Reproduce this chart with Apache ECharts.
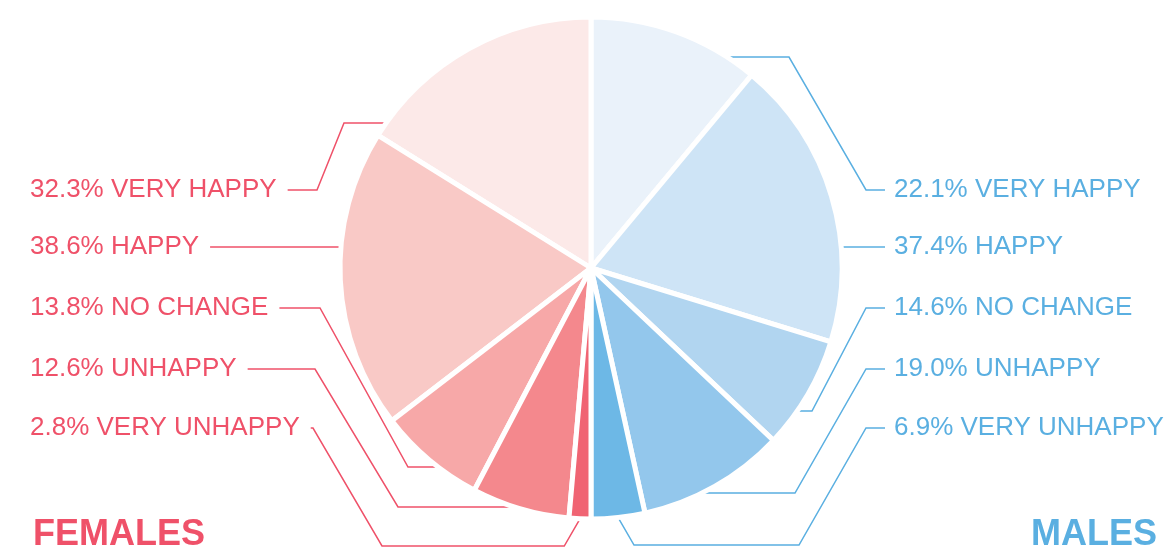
<!DOCTYPE html>
<html lang="en">
<head>
<meta charset="utf-8">
<style>
  html, body { margin: 0; height: 100%; background: #fff; }
  #chart { width: 1165px; height: 547px; }
</style>
</head>
<body>
<div id="chart"></div>
<script src="https://cdn.jsdelivr.net/npm/echarts@6/dist/echarts.min.js"></script>
<script>
// answers, listed from the top of each half downwards
const categories = ['VERY HAPPY', 'HAPPY', 'NO CHANGE', 'UNHAPPY', 'VERY UNHAPPY'];
const malesPct = [22.1, 37.4, 14.6, 19.0, 6.9];
const femalesPct = [32.3, 38.6, 13.8, 12.6, 2.8];

const maleColors = ['#eaf2fa', '#cee4f6', '#b1d5f0', '#93c7ec', '#6db8e6'];
const femaleColors = ['#fce9e8', '#f9c9c6', '#f7a8a8', '#f4888d', '#f06473'];
const maleInk = '#5aafe1';
const femaleInk = '#ef5169';

const CX = 591, CY = 268, R = 251;
const rowY = [190, 247, 308, 369, 428];
// leader routes: [knee x, x where the slant meets the run, run y]; null = straight line
const femaleRoute = [[317, 344, 123], null, [320, 408, 467], [315, 398, 507], [313, 382, 546]];
const maleRoute = [[866, 789, 57], null, [866, 812, 411], [866, 795, 493], [866, 799, 545]];

function makeLayout(side, route) {
  // side -1: labels on the left, 1: on the right
  return function (params) {
    var i = params.dataIndex;
    var y = rowY[i];
    var x = side < 0 ? 30 : 894;
    var start = side < 0 ? [x + params.labelRect.width + 11, y] : [x - 9, y];
    var arcX = function (yy) {
      return CX + side * Math.sqrt(R * R - (yy - CY) * (yy - CY));
    };
    var pts;
    var rt = route[i];
    if (!rt) {
      pts = [start, [arcX(y), y]];
    } else {
      pts = [start, [rt[0], y], [rt[1], rt[2]]];
      if (Math.abs(rt[2] - CY) < R) {
        pts.push([arcX(rt[2]), rt[2]]);
      } else {
        // run passes under the pie, then climbs to the slice middle
        var p0 = params.labelLinePoints[0];
        pts.push([p0[0] + side * (rt[2] - p0[1]) / Math.sqrt(3), rt[2]]);
        pts.push(p0);
      }
    }
    return { x: x, y: y, align: 'left', verticalAlign: 'middle', labelLinePoints: pts };
  };
}

function halfPie(name, values, colors, ink, side, route, startAngle, endAngle, clockwise) {
  return {
    name: name,
    type: 'pie',
    center: [CX, CY],
    radius: R,
    startAngle: startAngle,
    endAngle: endAngle,
    clockwise: clockwise,
    avoidLabelOverlap: false,
    emphasis: { disabled: true },
    itemStyle: { borderColor: '#fff', borderWidth: 5 },
    label: {
      show: true,
      position: 'outer',
      color: ink,
      fontSize: 26,
      fontFamily: 'Liberation Sans',
      formatter: function (p) {
        return p.value.toFixed(1) + '% ' + p.name;
      }
    },
    labelLine: { show: true, smooth: false, lineStyle: { color: ink, width: 1.5 } },
    labelLayout: makeLayout(side, route),
    data: categories.map(function (c, i) {
      return { name: c, value: values[i], itemStyle: { color: colors[i] } };
    })
  };
}

var chart = echarts.init(document.getElementById('chart'), null, { renderer: 'canvas' });
chart.setOption({
  animation: false,
  title: [
    {
      text: 'FEMALES', left: 33, top: 517, padding: 0,
      textStyle: { color: femaleInk, fontSize: 36, fontWeight: 'bold', fontFamily: 'Liberation Sans' }
    },
    {
      text: 'MALES', right: 8, top: 517, padding: 0,
      textStyle: { color: maleInk, fontSize: 36, fontWeight: 'bold', fontFamily: 'Liberation Sans' }
    }
  ],
  series: [
    halfPie('MALES', malesPct, maleColors, maleInk, 1, maleRoute, 90, -90, true),
    halfPie('FEMALES', femalesPct, femaleColors, femaleInk, -1, femaleRoute, 90, 270, false)
  ]
});
</script>
</body>
</html>
